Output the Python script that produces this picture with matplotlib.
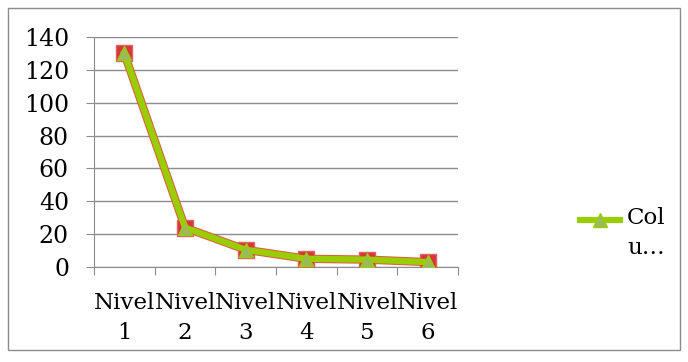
import matplotlib.pyplot as plt
from matplotlib.patches import Rectangle

niveles = ["Nivel\n1", "Nivel\n2", "Nivel\n3", "Nivel\n4", "Nivel\n5", "Nivel\n6"]
valores = [130, 24, 10.5, 5, 4.5, 3]
yticks = [0, 20, 40, 60, 80, 100, 120, 140]

plt.rcParams["font.family"] = ["DejaVu Serif"]

fig = plt.figure(figsize=(6.88, 3.62), dpi=100)
W, H = 688, 362
ax = fig.add_axes([94 / W, 1 - 267 / H, (458 - 94) / W, (267 - 37) / H])

x = list(range(len(niveles)))
# red series underneath, green one on top
ax.plot(x, valores, color="#d9603a", lw=6, marker="s", ms=11,
        mfc="#d9343a", mec="#e06060", zorder=3)
ax.plot(x, valores, color="#9acd06", lw=4.5, marker="^", ms=10,
        mfc="#9bbb59", mec="#9acd06", zorder=4)

ax.set_xlim(-0.5, 5.5)
ax.set_ylim(0, 140)
ax.set_yticks(yticks)
ax.set_yticklabels([str(v) for v in yticks], fontsize=17)
ax.grid(axis="y", color="#8c8c8c", lw=1)
ax.set_axisbelow(True)

ax.set_xticks([i - 0.5 for i in range(len(niveles) + 1)])
ax.set_xticklabels([])
ax.set_xticks(x, minor=True)
ax.set_xticklabels(niveles, minor=True, fontsize=16.5, linespacing=1.45)
ax.tick_params(axis="x", which="minor", length=0, pad=18)
ax.tick_params(axis="x", which="major", length=6, color="#8c8c8c")
ax.tick_params(axis="y", length=6, color="#8c8c8c", pad=12)

for s in ["top", "right"]:
    ax.spines[s].set_visible(False)
ax.spines["left"].set_color("#8c8c8c")
ax.spines["bottom"].set_color("#8c8c8c")

# legend
ax.plot([580, 620], [H - 220, H - 220], color="#9acd06", lw=4.5,
        transform=None, clip_on=False)
ax.plot([600], [H - 220], marker="^", ms=10, mfc="#9bbb59", mec="#9acd06",
        transform=None, clip_on=False)
fig.text(627 / W, 1 - 207 / H, "Col\nu…", fontsize=16.5, va="top",
         ha="left", linespacing=1.45, transform=fig.transFigure)

fig.patches.append(Rectangle((8 / W, 1 - 350 / H), 672 / W, 342 / H,
                             transform=fig.transFigure, fill=False,
                             ec="#8c8c8c", lw=1))

fig.savefig("out.png", dpi=100)
